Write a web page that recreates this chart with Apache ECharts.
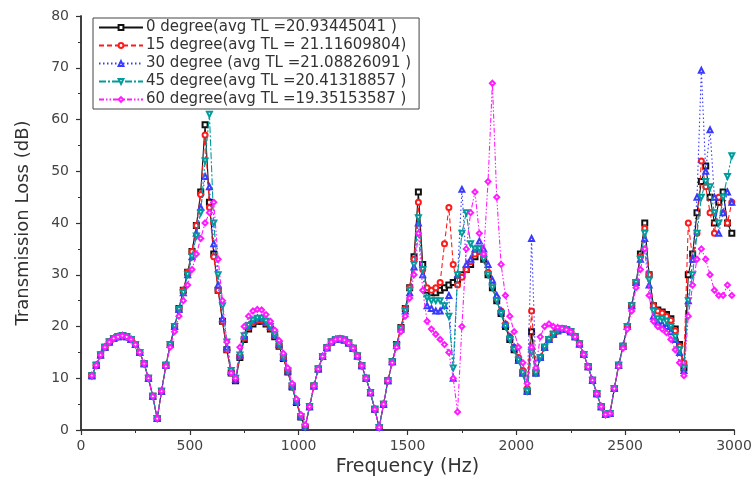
<!DOCTYPE html>
<html>
<head>
<meta charset="utf-8">
<script src="https://cdn.jsdelivr.net/npm/echarts@6/dist/echarts.min.js"></script>
<style>html,body{margin:0;padding:0;background:#fff}#c{width:755px;height:494px}</style>
</head>
<body>
<div id="c"></div>
<script>
// Frequency (Hz)
const freq = [
  50,70,90,110,130,150,170,190,210,230,
  250,270,290,310,330,350,370,390,410,430,
  450,470,490,510,530,550,570,590,610,630,
  650,670,690,710,730,750,770,790,810,830,
  850,870,890,910,930,950,970,990,1010,1030,
  1050,1070,1090,1110,1130,1150,1170,1190,1210,1230,
  1250,1270,1290,1310,1330,1350,1370,1390,1410,1430,
  1450,1470,1490,1510,1530,1550,1570,1590,1610,1630,
  1650,1670,1690,1710,1730,1750,1770,1790,1810,1830,
  1850,1870,1890,1910,1930,1950,1970,1990,2010,2030,
  2050,2070,2090,2110,2130,2150,2170,2190,2210,2230,
  2250,2270,2290,2310,2330,2350,2370,2390,2410,2430,
  2450,2470,2490,2510,2530,2550,2570,2590,2610,2630,
  2650,2670,2690,2710,2730,2750,2770,2790,2810,2830,
  2850,2870,2890,2910,2930,2950,2970,2990
];
// Transmission loss (dB)
const deg0 = [
  10.5,12.5,14.5,16,17,17.7,18,18.2,18,17.5,
  16.5,15,12.8,10,6.5,2.2,7.5,12.5,16.5,20,
  23.5,27,30.5,34.5,39.5,46,59,44,34,27,
  21,15.5,11,9.5,14,17.5,19.5,20.5,21,21,
  20.5,19.5,18,16.2,13.8,11.2,8.3,5.3,2.5,0.5,
  4.5,8.5,11.8,14.2,15.9,17,17.5,17.6,17.4,16.8,
  15.8,14.3,12.4,10,7.2,4,0.5,5,9.5,13.2,
  16.5,19.8,23.5,27.5,33.5,46,32,27,26.5,26.5,
  27,27.5,28,28.5,29,30,31,32,33.5,35,
  33,30,27.5,25,22.5,20,17.5,15.5,13.5,11,
  7.5,19,11,14,16,17.5,18.5,19.2,19.5,19.4,
  19,18,16.6,14.6,12.2,9.6,7,4.5,3,3.2,
  8,12.5,16.2,20,24,28.5,34,40,30,24,
  23.2,22.8,22.3,21.5,19.5,16.5,12,30,34,42,
  48,51,45,40,44,46,40,38
];
const deg15 = [
  10.5,12.5,14.5,16,17,17.7,18,18.2,18,17.5,
  16.5,15,12.8,10,6.5,2.2,7.5,12.5,16.5,20,
  23.5,27,30.5,34.5,39.5,45.5,57,43,33.5,27,
  21,15.5,11,9.6,14.2,17.8,19.8,20.8,21.2,21.2,
  20.7,19.7,18.2,16.3,13.9,11.3,8.4,5.4,2.6,0.6,
  4.5,8.5,11.8,14.2,15.9,17,17.5,17.6,17.4,16.8,
  15.8,14.3,12.4,10,7.2,4,0.5,5,9.5,13.2,
  16.5,19.8,23.5,27.5,33,44,31,27.5,27,27.5,
  28.5,36,43,32,28,29.5,31,32.5,34,34.5,
  33.5,30.5,28,25.5,23,20.5,18,16,14,11.5,
  8,23,11.5,14,16,17.5,18.5,19.2,19.5,19.4,
  19,18,16.6,14.6,12.2,9.6,7,4.5,3,3.2,
  8,12.5,16.2,20,24,28.5,33.5,39,30,24,
  23,22.6,22,21.2,19.2,16.2,13,40,33,38,
  52,47,42,38,45,42,40,44
];
const deg30 = [
  10.5,12.5,14.5,16,17,17.7,18,18.2,18,17.5,
  16.5,15,12.8,10,6.5,2.2,7.5,12.5,16.5,20,
  23.3,26.5,30,33.5,38,43,49,47,36,28,
  21.5,16,11.3,9.8,14.5,18.2,20.2,21.2,21.6,21.6,
  21,20,18.4,16.5,14,11.4,8.5,5.5,2.6,0.6,
  4.5,8.5,11.8,14.2,15.9,17,17.5,17.6,17.4,16.8,
  15.8,14.3,12.4,10,7.2,4,0.5,5,9.5,13.2,
  16.3,19.5,23,26.5,31.5,40,30,24,23.5,23,
  23,24,26,10,30,46.5,32,33,35,36.5,
  35,32,29,26,23,20.5,18,16,13.5,11,
  7.5,37,11,14,16,17.5,18.5,19.2,19.5,19.4,
  19,18,16.6,14.6,12.2,9.6,7,4.5,3,3.2,
  8,12.5,16.2,20,24,28.5,33,37,28,22,
  20.8,20.5,20,19,17.5,15,11.5,25,33,45,
  69.5,50,58,45,38,42,46,44
];
const deg45 = [
  10.5,12.5,14.5,16,17,17.7,18,18.2,18,17.5,
  16.5,15,12.8,10,6.5,2.2,7.5,12.5,16.5,20,
  23.3,26.5,30,33.5,37.5,42,52,61,40,30,
  24,17,11.5,10,14.5,18.2,20.2,21.2,21.6,21.6,
  21,20,18.4,16.5,14,11.4,8.5,5.5,2.6,0.6,
  4.5,8.5,11.8,14.2,15.9,17,17.5,17.6,17.4,16.8,
  15.8,14.3,12.4,10,7.2,4,0.5,5,9.5,13.2,
  16.3,19.5,23,27,32,41,31,25.5,25,25,
  25,24,22,12,30,38,42,36,35,35,
  33,30,27.5,25,22.5,20,17.5,15.5,13.5,11,
  7.5,15,11,14,16,17.5,18.5,19.2,19.5,19.4,
  19,18,16.6,14.6,12.2,9.6,7,4.5,3,3.2,
  8,12.5,16.2,20,24,28.5,33,38,29,23,
  21.5,21.5,21,20,18,15.5,12,25,30,38,
  45,48,47,42,40,45,49,53
];
const deg60 = [
  10.5,12.5,14.5,16,17,17.7,18,18.2,18,17.5,
  16.5,15,12.8,10,6.5,2.2,7.5,12.3,16,19,
  22,25,28,31,34,37,40,42,44,33,
  25,17,11,10,16,20,22,23,23.3,23.2,
  22.3,21,19.3,17.3,14.8,12,9,6,3,1,
  4.5,8.5,11.8,14.2,15.9,17,17.5,17.6,17.4,16.8,
  15.8,14.3,12.4,10,7.2,4,0.5,5,9.5,13,
  16,19,22,25.5,30,38,27,21,19.5,18.5,
  17.5,16.5,15,10,3.5,20,35,42,46,38,
  34,48,67,45,32,26,22,19,16,13,
  9,16,12,18,20,20.5,20,19.8,19.6,19.4,
  19,18,16.6,14.6,12.2,9.6,7,4.5,3,3.2,
  8,12.3,15.8,19.5,23,27.5,31,35,26,21,
  20,19.5,18.8,17.5,15.5,13,10.5,22,28,33,
  35,33,30,27,26,26,28,26
];
const seriesNames = [
  '0 degree(avg TL =20.93445041 )',
  '15 degree(avg TL = 21.11609804)',
  '30 degree (avg TL =21.08826091 )',
  '45 degree(avg TL =20.41318857 )',
  '60 degree(avg TL =19.35153587 )'
];
const xTicks = [0, 500, 1000, 1500, 2000, 2500, 3000];
const yTicks = [0, 10, 20, 30, 40, 50, 60, 70, 80];

const values = [deg0, deg15, deg30, deg45, deg60];
const colors = ['#111111', '#ff1a1a', '#3a3aff', '#009b9b', '#ff1aff'];
const symbols = ['emptyRect', 'emptyCircle', 'emptyTriangle', 'emptyTriangle', 'emptyDiamond'];
const rotations = [0, 0, 0, 180, 0];
const dashes = ['solid', [5, 3], [1.5, 2.5], [7, 2, 2, 2], [5, 2, 1.5, 2, 1.5, 2]];
const font = 'DejaVu Sans';

const chart = echarts.init(document.getElementById('c'), null, {renderer: 'canvas'});
const axisLineStyle = {color: '#333', width: 1.5};
const series = values.map((v, k) => ({
  name: seriesNames[k],
  type: 'line',
  data: freq.map((f, i) => [f, v[i]]),
  symbol: symbols[k],
  symbolRotate: rotations[k],
  symbolSize: 5,
  showSymbol: true,
  lineStyle: {color: colors[k], width: 1.1, type: dashes[k]},
  itemStyle: {color: colors[k], borderColor: colors[k], borderWidth: 1},
  emphasis: {disabled: true},
  z: 2 + k
}));

chart.setOption({
  animation: false,
  backgroundColor: '#fff',
  grid: {left: 81, right: 21, top: 16, bottom: 64},
  legend: {
    orient: 'vertical', left: 93, top: 18,
    itemGap: 3, itemWidth: 44, itemHeight: 6,
    padding: [2, 8, 2, 5],
    borderColor: '#444', borderWidth: 1,
    backgroundColor: '#fff',
    textStyle: {fontFamily: font, fontSize: 15, color: '#333', padding: [0, 0, 0, -2]},
    data: seriesNames
  },
  xAxis: [{
    type: 'value', min: xTicks[0], max: xTicks[xTicks.length - 1], interval: 500,
    name: 'Frequency (Hz)', nameLocation: 'middle', nameGap: 27,
    nameTextStyle: {fontFamily: font, fontSize: 19, color: '#333'},
    axisLine: {show: true, onZero: false, lineStyle: axisLineStyle},
    axisTick: {show: true, inside: false, length: 5, lineStyle: {color: '#333', width: 1.2}},
    minorTick: {show: true, splitNumber: 2, length: 3, lineStyle: {color: '#333'}},
    axisLabel: {fontFamily: font, fontSize: 14, color: '#444', margin: 9, formatter: v => String(v)},
    splitLine: {show: false}
  }, {
    type: 'value', position: 'top', min: 0, max: 3000, interval: 500,
    axisLine: {show: true, lineStyle: axisLineStyle},
    axisTick: {show: true, inside: true, length: 5, lineStyle: {color: '#333'}},
    minorTick: {show: true, splitNumber: 2, length: 3},
    axisLabel: {show: false}, splitLine: {show: false}
  }],
  yAxis: [{
    type: 'value', min: yTicks[0], max: yTicks[yTicks.length - 1], interval: 10,
    name: 'Transmission Loss (dB)', nameLocation: 'middle', nameGap: 49,
    nameTextStyle: {fontFamily: font, fontSize: 18, color: '#333'},
    axisLine: {show: true, lineStyle: axisLineStyle},
    axisTick: {show: true, inside: false, length: 5, lineStyle: {color: '#333', width: 1.2}},
    minorTick: {show: true, splitNumber: 2, length: 3, lineStyle: {color: '#333'}},
    axisLabel: {fontFamily: font, fontSize: 14, color: '#444', margin: 12, formatter: v => String(v)},
    splitLine: {show: false}
  }, {
    type: 'value', position: 'right', min: 0, max: 80, interval: 10,
    axisLine: {show: true, lineStyle: axisLineStyle},
    axisTick: {show: true, inside: true, length: 5, lineStyle: {color: '#333'}},
    minorTick: {show: true, splitNumber: 2, length: 3},
    axisLabel: {show: false}, splitLine: {show: false}
  }],
  series: series
});
</script>
</body>
</html>
